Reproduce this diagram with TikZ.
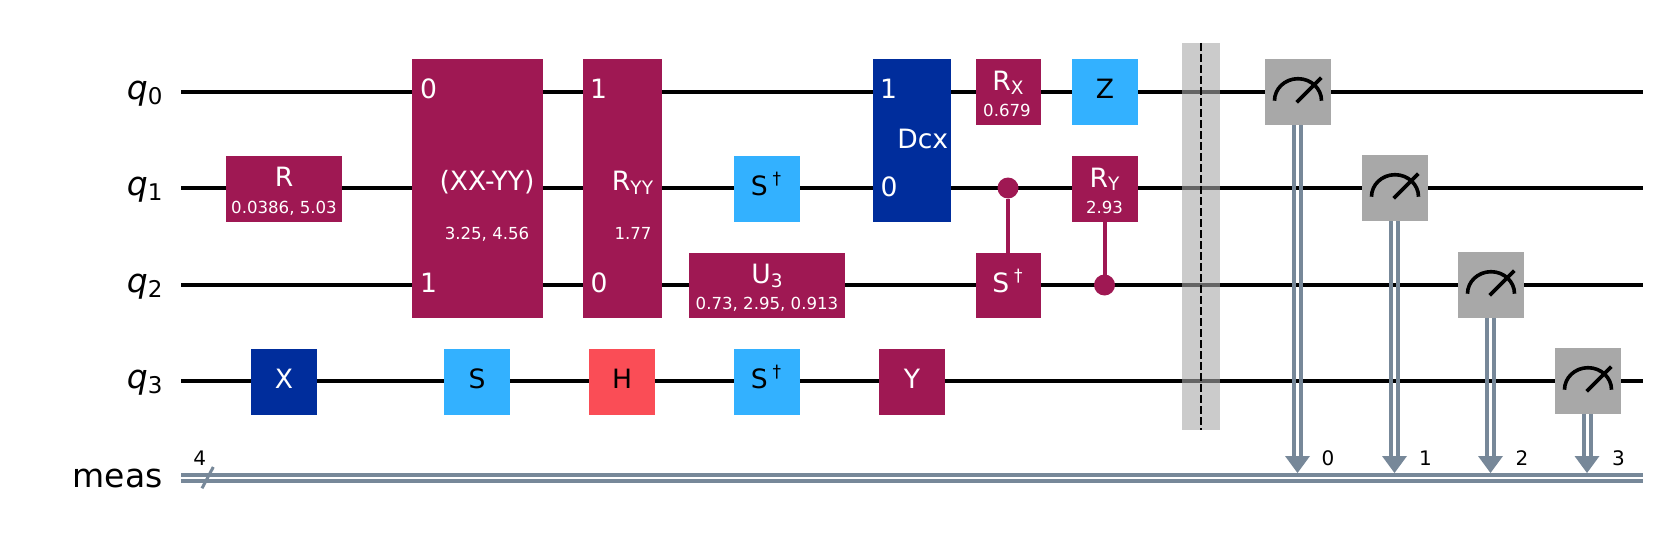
\documentclass[tikz,border=0pt]{standalone}
\usepackage{fontspec}
\setmainfont{DejaVu Sans}
\definecolor{qpurple}{HTML}{9F1853}
\definecolor{qblue}{HTML}{002D9C}
\definecolor{qlight}{HTML}{33B1FF}
\definecolor{qred}{HTML}{FA4D56}
\definecolor{qgray}{HTML}{A8A8A8}
\definecolor{qwire}{HTML}{778899}
\newcommand{\gf}{\fontsize{26.6}{30}\selectfont}
\newcommand{\pf}{\fontsize{16.6}{20}\selectfont}
\newcommand{\rf}{\fontsize{33}{38}\selectfont}
\newcommand{\nf}{\fontsize{20}{24}\selectfont}
\newcommand{\sbx}[1]{\raisebox{-3.6pt}{\fontsize{18.5}{20}\selectfont #1}}
\newcommand{\sdag}{\hspace{5pt}\raisebox{11.5pt}{\fontsize{17}{20}\selectfont †}}
\newcommand{\qlab}[1]{\textit{q}\raisebox{-5pt}{\fontsize{23}{26}\selectfont #1}}
\newcommand{\meter}[3]{%
  \draw[meterline] (#2-23.5,#3+8.7) arc[start angle=180,end angle=360,x radius=23.5,y radius=22];
  \draw[meterline] (#2-1.3,#3+10.3) -- (#2+23.3,#3-14.3);
}
\tikzset{
  gatebox/.style={rectangle,inner sep=0pt,outer sep=0pt,draw=none},
  purplegate/.style={gatebox,fill=qpurple},
  bluegate/.style={gatebox,fill=qblue},
  lightgate/.style={gatebox,fill=qlight},
  redgate/.style={gatebox,fill=qred},
  metergate/.style={gatebox,fill=qgray,minimum width=66,minimum height=66},
  dotnode/.style={circle,inner sep=0pt,outer sep=0pt,minimum size=21,fill=qpurple},
  wtxt/.style={anchor=base,inner sep=0pt,outer sep=0pt,text=white,font=\gf},
  btxt/.style={anchor=base,inner sep=0pt,outer sep=0pt,text=black,font=\gf},
  ptxt/.style={anchor=base,inner sep=0pt,outer sep=0pt,text=white,font=\pf},
  regtxt/.style={anchor=base east,inner sep=0pt,outer sep=0pt,text=black,font=\rf},
  numtxt/.style={anchor=base,inner sep=0pt,outer sep=0pt,text=black,font=\nf},
  qline/.style={draw=black,line width=4pt},
  cline/.style={draw=qwire,line width=4pt},
  ctrl/.style={draw=qpurple,line width=4pt},
  meterline/.style={draw=black,line width=3.6pt},
  tip/.style={fill=qwire,draw=none},
}
\begin{document}
\begin{tikzpicture}[x=1pt,y=-1pt]
\useasboundingbox (0,0) rectangle (1666,551);
% wire end points
\foreach \n/\y in {0/92,1/188,2/285,3/381}{
  \coordinate (qs\n) at (181,\y);
  \coordinate (qe\n) at (1643,\y);
}
\coordinate (cs0) at (181,475.3); \coordinate (ce0) at (1643,475.3);
\coordinate (cs1) at (181,481); \coordinate (ce1) at (1643,481);
\foreach \n in {0,1,2,3}{\draw[qline] (qs\n) -- (qe\n);}
\draw[cline] (cs0) -- (ce0);
\draw[cline] (cs1) -- (ce1);
\coordinate (sl0) at (202,488.3); \coordinate (sl1) at (213.3,467);
\draw[draw=qwire,line width=3pt] (sl0) -- (sl1);
% register labels
\node[regtxt] (l0) at (162.5,99.5) {\qlab{0}};
\node[regtxt] (l1) at (162.5,195.5) {\qlab{1}};
\node[regtxt] (l2) at (162.5,292.5) {\qlab{2}};
\node[regtxt] (l3) at (162.5,388.5) {\qlab{3}};
\node[regtxt] (lm) at (162.5,487) {meas};
\node[numtxt] (n4) at (199.8,465) {4};
% gates
\node[purplegate,minimum width=116,minimum height=66] (r) at (284,189) {};
\node[wtxt] (rt) at (284,186) {R};
\node[ptxt] (rp) at (284,213.5) {0.0386, 5.03};
\node[bluegate,minimum width=66,minimum height=66] (x) at (284,382) {};
\node[wtxt] (xt) at (284,388.5) {X};
\node[purplegate,minimum width=131,minimum height=259] (xy) at (477.5,188.5) {};
\node[wtxt] (xy0) at (428.5,99) {0};
\node[wtxt] (xy1) at (428.5,292.7) {1};
\node[wtxt] (xyt) at (487,190.7) {(XX-YY)};
\node[ptxt] (xyp) at (487,239.5) {3.25, 4.56};
\node[lightgate,minimum width=66,minimum height=66] (s) at (477,382) {};
\node[btxt] (st) at (477,388.5) {S};
\node[purplegate,minimum width=79,minimum height=259] (ryy) at (622.5,188.5) {};
\node[wtxt] (ryy1) at (598.5,99) {1};
\node[wtxt] (ryy0) at (599,292.7) {0};
\node[wtxt] (ryyt) at (632.5,190.7) {R\sbx{YY}};
\node[ptxt] (ryyp) at (633,239.5) {1.77};
\node[redgate,minimum width=66,minimum height=66] (h) at (622,382) {};
\node[btxt] (ht) at (622,388.5) {H};
\node[lightgate,minimum width=66,minimum height=66] (sd1) at (767,189) {};
\node[btxt] (sd1t) at (766,195.5) {S\sdag};
\node[purplegate,minimum width=156,minimum height=65] (u) at (767,285.5) {};
\node[wtxt] (ut) at (767,283.5) {U\sbx{3}};
\node[ptxt] (up) at (767,309.5) {0.73, 2.95, 0.913};
\node[lightgate,minimum width=66,minimum height=66] (sd3) at (767,382) {};
\node[btxt] (sd3t) at (766,388.5) {S\sdag};
\node[bluegate,minimum width=78,minimum height=163] (dcx) at (912,140.5) {};
\node[wtxt] (dcx1) at (888.5,99) {1};
\node[wtxt] (dcx0) at (889,196) {0};
\node[wtxt] (dcxt) at (922.7,148) {Dcx};
\node[purplegate,minimum width=66,minimum height=66] (y) at (912,382) {};
\node[wtxt] (yt) at (912,388.5) {Y};
\node[purplegate,minimum width=65,minimum height=66] (rx) at (1008.5,92) {};
\node[wtxt] (rxt) at (1008,90.5) {R\sbx{X}};
\node[ptxt] (rxp) at (1007,116.5) {0.679};
\node[lightgate,minimum width=66,minimum height=66] (z) at (1105,92) {};
\node[btxt] (zt) at (1105,98.5) {Z};
% controlled S-dagger
\node[purplegate,minimum width=65,minimum height=65] (csd) at (1008.5,285.5) {};
\node[wtxt] (csdt) at (1007.5,292.5) {S\sdag};
\node[dotnode] (cd) at (1008,188) {};
\draw[ctrl] (cd) -- (cd |- csd.north);
% controlled RY
\node[purplegate,minimum width=66,minimum height=66] (ry) at (1105,189) {};
\node[wtxt] (ryt) at (1104.5,187) {R\sbx{Y}};
\node[ptxt] (ryp) at (1104.5,213.5) {2.93};
\node[dotnode] (rd) at (1104.5,285) {};
\draw[ctrl] (rd) -- (rd |- ry.south);
% barrier
\node[gatebox,fill=qgray,fill opacity=.6,minimum width=38,minimum height=387] (bar) at (1201,236.5) {};
\draw[draw=black,line width=2pt,dash pattern=on 8pt off 3pt] (bar.north) -- (bar.south);
% measures
\foreach \n/\cx/\cy/\ax in {0/1298/92/1297.5,1/1395/188/1394.5,2/1491/285/1490.5,3/1588/381/1587}{
  \coordinate (tip\n) at (\ax,473);
  \draw[cline] (\ax-3.5,\cy+33) -- (\ax-3.5,460);
  \draw[cline] (\ax+3.5,\cy+33) -- (\ax+3.5,460);
  \fill[tip] (\ax-12.5,456) -- (\ax+12.5,456) -- (tip\n) -- cycle;
  \node[metergate] (m\n) at (\cx,\cy) {};
  \meter{m\n}{\cx}{\cy}
}
\node[numtxt] (n0) at (1328,465) {0};
\node[numtxt] (n1) at (1425.5,465) {1};
\node[numtxt] (n2) at (1522,465) {2};
\node[numtxt] (n3) at (1618.5,465) {3};
\end{tikzpicture}
\end{document}
